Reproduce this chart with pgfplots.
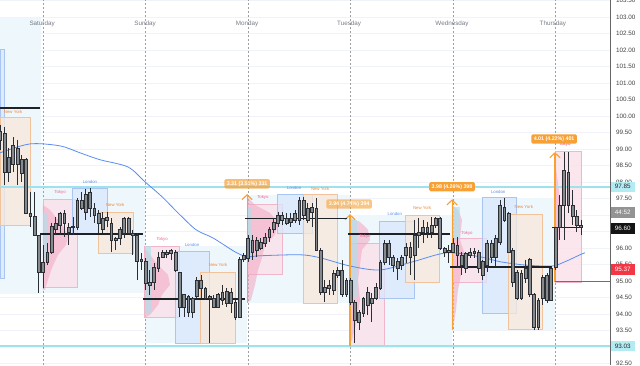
\documentclass[border=0pt]{standalone}
\usepackage{pgfplots}
\pgfplotsset{compat=1.18}
\usepackage{pgfplotstable}
\usepackage{fontspec}
\setmainfont{Liberation Sans}

\definecolor{daybg}{HTML}{EDF7FC}
\definecolor{tkfill}{HTML}{FBE0EA}
\definecolor{tkline}{HTML}{F2B6CA}
\definecolor{tktext}{HTML}{EC6A93}
\definecolor{ldfill}{HTML}{D9E7FC}
\definecolor{ldline}{HTML}{A9C6F2}
\definecolor{ldtext}{HTML}{5B8DE6}
\definecolor{nyfill}{HTML}{F8E8DA}
\definecolor{nyline}{HTML}{F2C29A}
\definecolor{nytext}{HTML}{F0883E}
\definecolor{vpink}{HTML}{F3A6C0}
\definecolor{vcyan}{HTML}{A6E3EC}
\definecolor{orng}{HTML}{F7A033}
\definecolor{cyanline}{HTML}{9FE2EB}
\definecolor{cyanlab}{HTML}{B2EBF2}
\definecolor{bodyfill}{HTML}{858A8F}
\definecolor{bodyline}{HTML}{2B2E33}
\definecolor{maline}{HTML}{5B8DEF}
\definecolor{poc}{HTML}{1E2126}
\definecolor{redline}{HTML}{F23645}
\definecolor{gridc}{HTML}{F0F3FA}
\definecolor{daytext}{HTML}{787B86}

\newcommand{\axfont}{\fontsize{6.3}{7}\selectfont}
\newcommand{\sfont}{\fontsize{4.3}{5}\selectfont}
\newcommand{\sessrect}[5]{\addplot[#1] coordinates {(#2,#4) (#3,#4) (#3,#5) (#2,#5)} -- cycle;}
\pgfdeclareplotmark{nothing}{}

\pgfplotstableread{
i O H L C
-10 99.27 99.73 98.97 99.52
-9 99.48 99.67 97.91 98.30
-8 98.30 99.03 98.00 98.76
-7 98.52 99.36 98.30 99.12
-6 99.03 99.27 97.91 98.52
-5 98.27 98.82 98.00 98.67
-4 98.67 98.73 97.06 97.06
-3 97.06 97.70 96.64 96.97
-2 96.97 97.70 96.39 96.39
-1 96.39 96.39 94.64 95.27
0 95.27 96.09 94.79 95.55
1 95.55 96.15 95.48 95.88
2 95.88 96.76 95.82 96.64
3 96.55 96.94 96.39 96.76
4 96.70 97.09 96.39 97.06
5 97.06 97.15 96.33 96.76
6 96.61 96.76 96.09 96.48
7 96.61 96.94 96.39 96.64
8 96.61 97.52 96.55 97.45
9 97.21 97.70 97.15 97.45
10 97.09 97.79 96.85 97.61
11 97.67 97.82 96.94 97.21
12 97.21 97.36 96.76 97.00
13 97.06 97.15 96.45 96.76
14 96.91 97.09 96.45 96.55
15 96.85 97.09 96.64 96.94
16 96.76 96.91 95.88 96.24
17 96.24 96.33 95.94 96.30
18 96.30 96.64 96.09 96.55
19 96.45 96.94 96.30 96.91
20 96.91 96.94 96.45 96.45
21 96.45 96.55 95.79 96.39
22 96.39 96.45 95.03 95.58
23 95.64 95.85 95.33 95.58
24 95.58 95.70 94.73 94.94
25 94.88 95.33 94.58 94.97
26 94.97 95.55 94.73 95.42
27 95.39 95.88 95.27 95.73
28 95.73 95.94 95.70 95.88
29 95.82 95.94 95.70 95.88
30 95.85 95.97 95.64 95.94
31 95.88 95.94 95.27 95.33
32 95.27 95.27 93.91 94.21
33 94.21 94.58 93.91 94.58
34 94.52 94.58 93.91 94.06
35 94.06 94.52 93.88 94.48
36 94.52 95.12 94.48 95.03
37 95.03 95.18 94.48 94.79
38 94.79 94.82 94.42 94.48
39 94.52 94.58 93.12 94.48
40 94.48 94.58 94.18 94.21
41 94.21 94.64 94.18 94.58
42 94.42 94.88 94.27 94.64
43 94.33 94.79 94.21 94.67
44 94.64 94.79 94.03 94.33
45 94.36 94.42 93.82 93.91
46 93.91 95.73 93.91 95.64
47 95.64 95.85 95.58 95.79
48 95.70 96.39 95.58 96.30
49 96.24 96.39 95.64 95.88
50 95.94 96.33 95.73 96.24
51 96.00 96.30 95.94 96.18
52 96.15 96.45 96.03 96.33
53 96.33 96.64 96.18 96.55
54 96.55 96.91 96.45 96.79
55 96.76 97.09 96.64 97.00
56 97.00 97.09 96.70 96.85
57 96.76 97.06 96.70 96.91
58 96.79 97.06 96.64 96.91
59 96.85 97.15 96.76 97.06
60 96.85 97.55 96.70 97.45
61 97.00 97.55 96.85 97.45
62 97.21 97.36 96.76 96.85
63 97.09 97.36 96.64 97.24
64 97.21 97.52 95.94 95.94
65 95.94 96.00 94.58 94.64
66 94.64 95.03 94.36 94.82
67 94.79 95.03 94.58 94.88
68 94.73 95.33 94.58 95.24
69 95.18 95.42 95.09 95.33
70 95.33 95.64 94.52 94.58
71 94.58 95.09 94.52 95.03
72 95.03 95.09 94.27 94.36
73 94.36 94.42 93.12 93.82
74 93.76 94.12 93.52 94.06
75 94.03 94.52 93.91 94.48
76 94.27 94.82 93.97 94.64
77 94.33 94.64 93.76 94.48
78 94.48 94.94 94.42 94.82
79 94.79 95.64 94.73 95.55
80 95.55 96.24 95.48 96.15
81 95.73 96.24 95.48 96.15
82 95.73 95.79 95.27 95.48
83 95.58 95.70 95.03 95.39
84 95.48 95.79 95.33 95.73
85 95.79 96.15 95.55 96.03
86 95.73 96.18 95.18 96.03
87 95.79 96.85 95.03 96.39
88 96.39 96.91 96.00 96.48
89 96.48 96.85 96.15 96.61
90 96.48 96.79 96.30 96.61
91 96.48 96.94 96.30 96.70
92 96.70 96.94 96.61 96.91
93 96.91 96.94 95.94 96.00
94 96.00 96.03 95.73 95.88
95 95.88 96.09 95.55 95.94
96 95.88 96.30 95.88 96.15
97 96.09 96.33 95.39 95.79
98 95.79 95.88 95.18 95.48
99 95.39 95.88 95.24 95.85
100 95.79 96.00 95.70 95.88
101 95.85 96.00 95.70 95.91
102 95.88 95.94 95.24 95.39
103 95.18 95.64 95.03 95.58
104 95.48 96.24 95.27 96.15
105 95.73 96.24 95.55 96.15
106 95.73 96.39 95.42 96.30
107 96.18 97.45 96.09 97.30
108 96.85 97.52 96.79 97.24
109 97.06 97.09 95.88 95.88
110 95.94 96.00 94.82 94.97
111 95.27 95.33 94.42 94.48
112 94.48 95.33 94.42 95.24
113 95.09 95.64 94.94 95.39
114 95.64 95.70 94.52 94.58
115 94.58 94.64 93.52 93.58
116 93.58 94.48 93.52 94.42
117 94.48 95.18 94.27 95.12
118 94.42 95.24 94.33 95.18
119 94.42 95.42 94.42 95.39
120 95.42 96.64 95.33 96.61
121 96.61 97.61 96.24 97.30
122 97.30 98.91 96.24 98.36
123 98.30 98.91 97.06 97.30
124 97.30 97.76 96.70 96.97
125 96.97 97.15 96.48 96.70
126 96.70 96.85 96.39 96.61
}\candles

\pgfplotsset{
  daybox/.style={fill=daybg, draw=none},
  tokyo/.style={fill=tkfill, fill opacity=0.8, draw=tkline, line width=0.5pt},
  london/.style={fill=ldfill, fill opacity=0.75, draw=ldline, line width=0.5pt},
  newyork/.style={fill=nyfill, fill opacity=0.75, draw=nyline, line width=0.5pt},
  vprof/.style={fill=vpink, fill opacity=0.55, draw=none},
  vcy/.style={fill=vcyan, fill opacity=0.6, draw=none},
  pocline/.style={poc, line width=1.3pt},
  orline/.style={orng, line width=1.1pt},
  dayline/.style={gray!75, line width=0.7pt, dash pattern=on 2pt off 2pt},
}

\begin{document}
\begin{tikzpicture}
\useasboundingbox (0,0) rectangle (640pt,365pt);
\clip (0,0) rectangle (640pt,365pt);
\begin{axis}[
  at={(0,0)}, anchor=south west,
  x=4.27pt, y=33pt,
  xmin=-10.07, xmax=132.79, ymin=92.45, ymax=103.515,
  clip=false,
  axis x line*=bottom, axis y line*=right,
  x axis line style={draw=none},
  y axis line style={draw=black!60, line width=0.8pt},
  xtick=\empty,
  ytick={92.5,93,93.5,94,94.5,95,95.5,96,96.5,97,97.5,98,98.5,99,99.5,100,100.5,101,101.5,102,102.5,103,103.5},
  ymajorgrids, y grid style={color=gridc, line width=0.6pt},
  major tick length=0pt,
  yticklabel style={font=\axfont, text=black!75, anchor=west, xshift=2.5pt,
    /pgf/number format/fixed, /pgf/number format/fixed zerofill,
    /pgf/number format/precision=2, /pgf/number format/assume math mode=true},
]
% daily range backgrounds
\sessrect{daybox}{-10.07}{-0.47}{94.61}{102.97}
\sessrect{daybox}{-0.47}{23.9}{94.64}{97.85}
\sessrect{daybox}{23.9}{47.8}{93.12}{96.06}
\sessrect{daybox}{47.8}{71.9}{94.33}{97.61}
\sessrect{daybox}{71.9}{95.8}{93.03}{97.00}
\sessrect{daybox}{95.8}{119.9}{93.52}{97.52}
% day separators
\addplot[dayline] coordinates {(0,92.45) (0,103.515)};
\addplot[dayline] coordinates {(24,92.45) (24,103.515)};
\addplot[dayline] coordinates {(48,92.45) (48,103.515)};
\addplot[dayline] coordinates {(72,92.45) (72,103.515)};
\addplot[dayline] coordinates {(96,92.45) (96,103.515)};
\addplot[dayline] coordinates {(120,92.45) (120,103.515)};
% sessions
\sessrect{london}{-10.07}{-9.02}{95.09}{102.03}
\sessrect{newyork}{-10.07}{-3.04}{96.67}{99.97}
\sessrect{tokyo}{0}{7.96}{94.82}{97.48}
\sessrect{london}{6.8}{15.0}{96.45}{97.82}
\sessrect{newyork}{12.9}{21.1}{95.85}{97.09}
\sessrect{tokyo}{23.7}{31.9}{93.91}{96.06}
\sessrect{london}{30.9}{38.9}{93.12}{95.91}
\sessrect{newyork}{36.8}{45.0}{93.12}{95.27}
\sessrect{tokyo}{47.8}{56.0}{95.21}{97.33}
\sessrect{london}{54.8}{63.0}{96.45}{97.61}
\sessrect{newyork}{60.9}{68.9}{94.33}{97.61}
\sessrect{tokyo}{71.9}{79.9}{93.06}{96.15}
\sessrect{london}{78.7}{86.9}{94.48}{96.82}
\sessrect{newyork}{84.8}{92.7}{94.97}{97.00}
\sessrect{tokyo}{95.8}{103.7}{94.97}{96.30}
\sessrect{london}{102.8}{110.8}{94.03}{97.52}
\sessrect{newyork}{108.9}{116.9}{93.52}{97.03}
\sessrect{tokyo}{119.9}{126.0}{94.97}{98.94}
% volume profiles
\addplot[vprof] coordinates {(0,97.30) (1.64,97.15) (3.51,96.85) (4.92,96.61) (5.85,96.36) (5.39,96.09) (3.51,95.79) (2.11,95.39) (1.17,95.03) (0.47,94.73) (0,94.73)} -- cycle;
\addplot[vprof] coordinates {(23.89,96.00) (25.06,95.79) (26.93,95.48) (29.27,95.18) (29.74,94.88) (27.87,94.58) (26.93,94.27) (25.06,93.97) (23.89,93.88)} -- cycle;
\addplot[vprof] coordinates {(47.78,97.55) (49.65,97.30) (53.16,97.06) (55.04,96.79) (54.33,96.39) (51.99,96.09) (51.29,95.70) (50.35,95.33) (49.65,94.88) (48.71,94.42) (47.78,94.33)} -- cycle;
\addplot[vprof] coordinates {(71.90,96.91) (74.24,96.79) (76.11,96.55) (76.58,96.24) (74.71,95.94) (74.24,95.48) (73.77,95.03) (74.24,94.42) (73.54,93.82) (72.37,93.21) (71.90,93.12)} -- cycle;
\addplot[vprof] coordinates {(95.78,97.30) (97.19,97.15) (98.13,96.85) (97.66,96.24) (98.83,95.79) (98.13,95.33) (97.19,94.73) (96.72,94.12) (96.02,93.52) (95.78,93.52)} -- cycle;
\addplot[vprof] coordinates {(119.9,98.67) (121.1,97.45) (120.6,95.94) (119.9,95.03)} -- cycle;
\sessrect{vcy}{0}{1.2}{95.64}{97.06}
\sessrect{vcy}{23.9}{25.4}{94.03}{96.06}
\sessrect{vcy}{47.8}{49.0}{95.64}{97.24}
\sessrect{vcy}{71.9}{73.5}{94.52}{96.85}
\sessrect{vcy}{95.8}{97.7}{96.24}{97.24}
% key levels
\addplot[cyanline, line width=2pt] coordinates {(-10.07,97.85) (132.79,97.85)};
\addplot[cyanline, line width=2pt] coordinates {(-10.07,93.03) (132.79,93.03)};
% moving average
\addplot[maline, line width=0.8pt, smooth] coordinates {
(-10.07,98.88) (-3.04,99.15) (3.98,99.09) (8.67,98.88) (13.35,98.67) (19.91,98.45)
(23.89,98.00) (27.87,97.55) (31.62,97.06) (35.83,96.55) (39.81,96.30) (44.96,95.88)
(47.78,95.73) (50.82,95.76) (60.19,95.79) (64.87,95.70) (71.90,95.45) (78.92,95.33)
(86.65,95.58) (94.61,95.85) (102.34,95.73) (107.03,95.58) (112.88,95.48) (119.20,95.45)
(122.25,95.58) (125.76,95.79) (126.93,95.85)};
% orange day-range lines
\addplot[orline] coordinates {(47.8,97.61) (47.8,94.33)};
\addplot[orline] coordinates {(71.9,97.00) (71.9,93.03)};
\addplot[orline] coordinates {(95.8,97.45) (95.8,93.52)};
\addplot[orline] coordinates {(119.9,98.88) (119.9,94.97)};
\addplot[orline] coordinates {(46.6,97.46) (47.8,97.61) (49.0,97.46)};
\addplot[orline] coordinates {(70.7,96.85) (71.9,97.00) (73.1,96.85)};
\addplot[orline] coordinates {(94.6,97.30) (95.8,97.45) (97.0,97.30)};
\addplot[orline] coordinates {(118.7,98.73) (119.9,98.88) (121.1,98.73)};
% wicks
\addplot[only marks, scatter, mark=nothing,
  visualization depends on={(\thisrow{H}-\thisrow{L})*33 \as \wl},
  scatter/@pre marker code/.code={\draw[bodyline, line width=0.7pt] (0pt,0pt) -- (0pt,\wl pt);},
  scatter/@post marker code/.code={}]
  table[x=i, y=L] {\candles};
% bodies
\addplot[only marks, scatter, mark=nothing,
  visualization depends on={max(abs(\thisrow{C}-\thisrow{O})*33,0.8) \as \bh},
  scatter/@pre marker code/.code={\filldraw[fill=bodyfill, draw=bodyline, line width=0.5pt] (-1.4pt,0pt) rectangle (1.4pt,\bh pt);},
  scatter/@post marker code/.code={}]
  table[x=i, y expr={min(\thisrow{O},\thisrow{C})}] {\candles};
% POC lines
\addplot[pocline] coordinates {(-10.07,100.24) (-0.7,100.24)};
\addplot[pocline] coordinates {(-0.7,96.42) (23.4,96.42)};
\addplot[pocline] coordinates {(23.4,94.45) (47.3,94.45)};
\addplot[pocline] coordinates {(47.3,96.88) (71.2,96.88)};
\addplot[pocline] coordinates {(71.4,96.42) (95.3,96.42)};
\addplot[pocline] coordinates {(95.3,95.42) (119.2,95.42)};
\addplot[pocline] coordinates {(119.2,96.61) (126.2,96.61)};
% red level
\addplot[redline, line width=1.5pt] coordinates {(119.9,94.98) (132.79,94.98)};
% day names
\node[font=\axfont, text=daytext] at (axis cs:-0.2,102.79) {Saturday};
\node[font=\axfont, text=daytext] at (axis cs:23.9,102.79) {Sunday};
\node[font=\axfont, text=daytext] at (axis cs:47.8,102.79) {Monday};
\node[font=\axfont, text=daytext] at (axis cs:71.7,102.79) {Tuesday};
\node[font=\axfont, text=daytext] at (axis cs:95.8,102.79) {Wednesday};
\node[font=\axfont, text=daytext] at (axis cs:119.4,102.79) {Thursday};
% session labels
\node[font=\sfont, text=nytext] at (axis cs:-7.0,100.12) {New York};
\node[font=\sfont, text=tktext] at (axis cs:4.0,97.67) {Tokyo};
\node[font=\sfont, text=ldtext] at (axis cs:11.0,98.00) {London};
\node[font=\sfont, text=nytext] at (axis cs:16.9,97.30) {New York};
\node[font=\sfont, text=tktext] at (axis cs:27.9,96.27) {Tokyo};
\node[font=\sfont, text=ldtext] at (axis cs:34.9,96.09) {London};
\node[font=\sfont, text=nytext] at (axis cs:41.0,95.48) {New York};
\node[font=\sfont, text=tktext] at (axis cs:51.5,97.52) {Tokyo};
\node[font=\sfont, text=ldtext] at (axis cs:58.8,97.82) {London};
\node[font=\sfont, text=nytext] at (axis cs:64.9,97.79) {New York};
\node[font=\sfont, text=tktext] at (axis cs:75.4,96.36) {Tokyo};
\node[font=\sfont, text=ldtext] at (axis cs:82.4,97.03) {London};
\node[font=\sfont, text=nytext] at (axis cs:88.8,97.21) {New York};
\node[font=\sfont, text=tktext] at (axis cs:99.3,96.45) {Tokyo};
\node[font=\sfont, text=ldtext] at (axis cs:106.6,97.70) {London};
\node[font=\sfont, text=nytext] at (axis cs:112.6,97.24) {New York};
\node[font=\sfont, text=redline] at (axis cs:122.2,99.15) {Tokyo};
% range labels
\node[font=\fontsize{5.3}{6}\selectfont\bfseries, text=white, fill=orng, fill opacity=0.7, text opacity=1, rounded corners=1.5pt, inner xsep=2.5pt, inner ysep=2.2pt] at (axis cs:47.8,97.94) {3.31 (3.51\%) 331};
\node[font=\fontsize{5.3}{6}\selectfont\bfseries, text=white, fill=orng, fill opacity=0.6, text opacity=1, rounded corners=1.5pt, inner xsep=2.5pt, inner ysep=2.2pt] at (axis cs:71.7,97.33) {3.94 (4.74\%) 394};
\node[font=\fontsize{5.3}{6}\selectfont\bfseries, text=white, fill=orng, rounded corners=1.5pt, inner xsep=2.5pt, inner ysep=2.2pt] at (axis cs:95.8,97.85) {3.98 (4.26\%) 398};
\node[font=\fontsize{5.3}{6}\selectfont\bfseries, text=white, fill=orng, rounded corners=1.5pt, inner xsep=2.5pt, inner ysep=2.2pt] at (axis cs:119.7,99.30) {4.01 (4.22\%) 401};
% anchors for right labels
\coordinate (a1) at (axis cs:132.79,97.85);
\coordinate (a2) at (axis cs:132.79,97.05);
\coordinate (a3) at (axis cs:132.79,96.60);
\coordinate (a4) at (axis cs:132.79,95.35);
\coordinate (a5) at (axis cs:132.79,93.02);
\end{axis}
\tikzset{plab/.style={anchor=west, font=\axfont, minimum width=24pt, minimum height=9.5pt, inner sep=1pt}}
\node[plab, fill=cyanlab, text=black!85] at ([xshift=0.6pt]a1) {97.85};
\node[plab, fill=gray!85, text=white, minimum height=10.5pt] at ([xshift=0.6pt,yshift=0.8pt]a2) {44:52};
\node[plab, fill=black!92, text=white, minimum height=11pt] at ([xshift=0.6pt,yshift=-0.5pt]a3) {96.60};
\node[plab, fill=redline, text=white, minimum height=11pt] at ([xshift=0.6pt]a4) {95.37};
\node[plab, fill=cyanlab, text=black!85] at ([xshift=0.6pt]a5) {93.03};
\end{tikzpicture}
\end{document}
